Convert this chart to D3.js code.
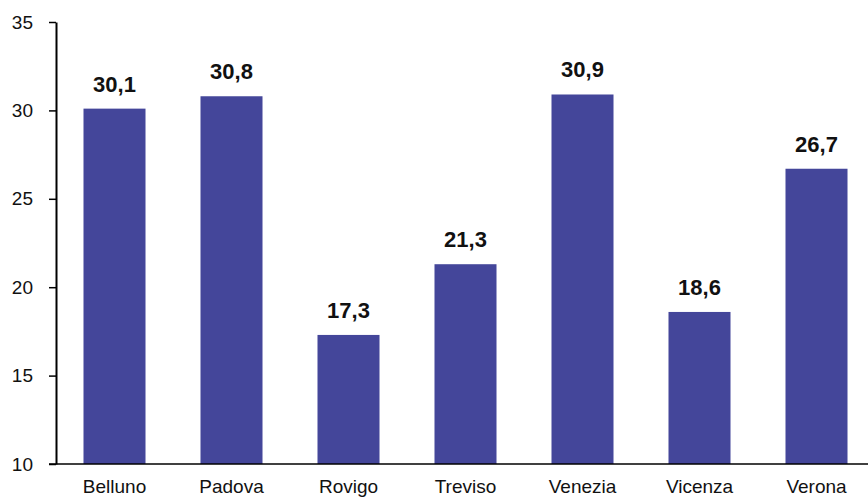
<!DOCTYPE html>
<html><head><meta charset="utf-8">
<script src="https://cdn.jsdelivr.net/npm/d3@7/dist/d3.min.js"></script>
<style>body{margin:0;background:#fff}svg{display:block}</style>
</head><body><svg id="c" width="868" height="498"></svg>
<script>
const categories = ["Belluno","Padova","Rovigo","Treviso","Venezia","Vicenza","Verona"];
const values = [30.1,30.8,17.3,21.3,30.9,18.6,26.7];
const yTicks = [10,15,20,25,30,35];

const svg = d3.select("#c");
const font = "'Liberation Sans', Arial, sans-serif";
const x = d3.scaleBand().domain(categories).range([56, 875]).paddingInner(0.47).paddingOuter(0.235);
const y = d3.scaleLinear().domain([10, 35]).range([464, 22]);

svg.selectAll("rect.bar").data(values).enter().append("rect")
  .attr("x", (d,i) => x(categories[i]))
  .attr("y", d => y(d))
  .attr("width", x.bandwidth())
  .attr("height", d => y(10) - y(d))
  .attr("fill", "#44469a");

svg.selectAll("text.val").data(values).enter().append("text")
  .attr("x", (d,i) => x(categories[i]) + x.bandwidth()/2)
  .attr("y", d => y(d) - 17)
  .attr("text-anchor", "middle")
  .attr("font-family", font).attr("font-weight", "bold").attr("font-size", 22)
  .attr("fill", "#111")
  .text(d => d.toFixed(1).replace(".", ","));

const yAxis = svg.append("g").attr("transform", "translate(56,0)")
  .call(d3.axisLeft(y).tickValues(yTicks).tickSize(7).tickSizeOuter(0).tickPadding(16));
yAxis.select(".domain").attr("stroke", "#000").attr("stroke-width", 2);
yAxis.selectAll(".tick line").attr("stroke", "#000").attr("stroke-width", 1.5);
yAxis.selectAll(".tick text").attr("font-family", font).attr("font-size", 19).attr("fill", "#111");

const xAxis = svg.append("g").attr("transform", "translate(0,464)")
  .call(d3.axisBottom(x).tickSize(0).tickSizeOuter(0).tickPadding(16));
xAxis.select(".domain").attr("stroke", "#000").attr("stroke-width", 1.5)
  .attr("d", "M49,0H868");
xAxis.selectAll(".tick text").attr("font-family", font).attr("font-size", 19).attr("fill", "#111");
</script></body></html>
